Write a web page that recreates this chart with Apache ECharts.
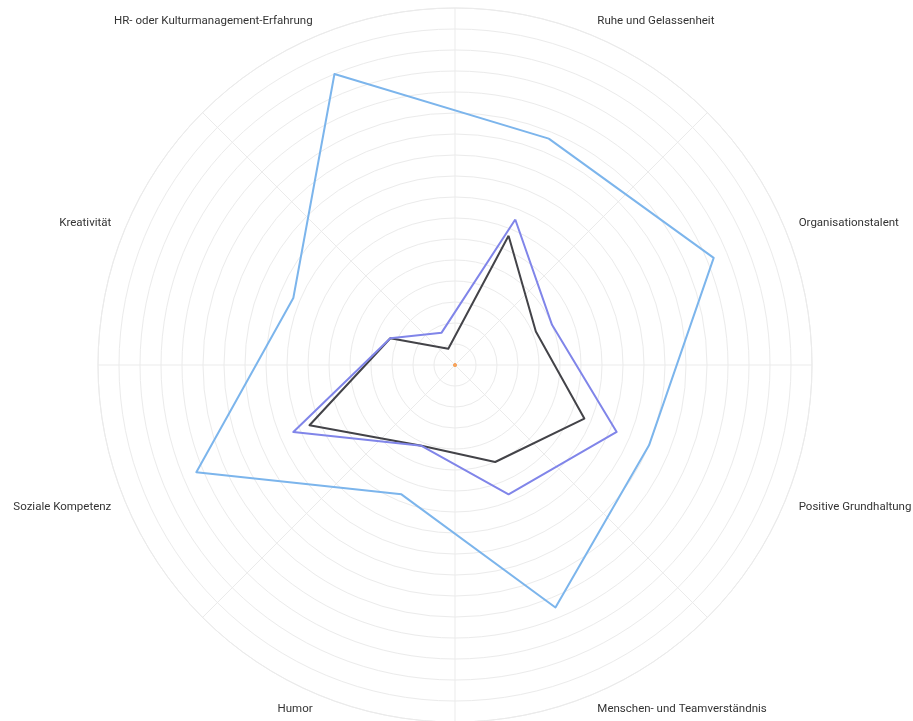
<!DOCTYPE html>
<html>
<head>
<meta charset="utf-8">
<script src="https://cdn.jsdelivr.net/npm/echarts@6/dist/echarts.min.js"></script>
<style>
  html, body { margin: 0; padding: 0; background: #fff; }
  #chart { width: 913px; height: 721px; }
</style>
</head>
<body>
<div id="chart"></div>
<script>
// categories in clockwise order, starting right of the top
const categories = ['Ruhe und Gelassenheit', 'Organisationstalent', 'Positive Grundhaltung',
  'Menschen- und Teamverständnis', 'Humor', 'Soziale Kompetenz', 'Kreativität',
  'HR- oder Kulturmanagement-Erfahrung'];
const seriesBlue = [70, 80, 60, 75, 40, 80, 50, 90];
const seriesDark = [40, 25, 40, 30, 25, 45, 20, 5];
const seriesOrange = [0, 0, 0, 0, 0, 0, 0, 0];
const seriesPurple = [45, 30, 50, 40, 25, 50, 20, 10];
const axisMax = 102;
const tickStep = 6;

// radar goes counterclockwise, so flip the order after the first item
const order = [0, 7, 6, 5, 4, 3, 2, 1];
const pick = arr => order.map(i => arr[i]);

const gridColor = '#ebebeb';
const myChart = echarts.init(document.getElementById('chart'));
const option = {
  backgroundColor: '#fff',
  animation: false,
  polar: { center: [455, 365], radius: 357 },
  angleAxis: {
    type: 'category',
    data: categories,
    startAngle: 90,
    boundaryGap: true,
    axisLine: { show: true, lineStyle: { color: gridColor, width: 1 } },
    axisTick: { show: false },
    axisLabel: { show: false },
    splitLine: { show: true, lineStyle: { color: gridColor, width: 1 } }
  },
  radiusAxis: {
    type: 'value',
    min: 0,
    max: axisMax,
    interval: tickStep,
    axisLine: { show: false },
    axisTick: { show: false },
    axisLabel: { show: false },
    splitLine: { show: true, lineStyle: { color: gridColor, width: 1 } }
  },
  radar: {
    center: [455, 365],
    radius: 357,
    startAngle: 67.5,
    shape: 'circle',
    splitNumber: axisMax / tickStep,
    nameGap: 15,
    axisName: { color: '#333', fontSize: 11.5, fontFamily: 'Roboto' },
    indicator: pick(categories).map(n => ({ name: n, min: 0, max: axisMax })),
    axisLine: { show: false },
    axisTick: { show: false },
    axisLabel: { show: false },
    splitLine: { show: false },
    splitArea: { show: false }
  },
  series: [{
    type: 'radar',
    silent: true,
    symbol: 'none',
    lineStyle: { width: 2 },
    data: [
      { value: pick(seriesBlue), lineStyle: { color: '#7cb5ec', width: 2 } },
      { value: pick(seriesDark), lineStyle: { color: '#434348', width: 2 } },
      { value: pick(seriesOrange), symbol: 'circle', symbolSize: 3,
        itemStyle: { color: '#f7a35c' }, lineStyle: { color: '#f7a35c', width: 0 } },
      { value: pick(seriesPurple), lineStyle: { color: '#8085e9', width: 2 } }
    ]
  }]
};
myChart.setOption(option);
</script>
</body>
</html>
